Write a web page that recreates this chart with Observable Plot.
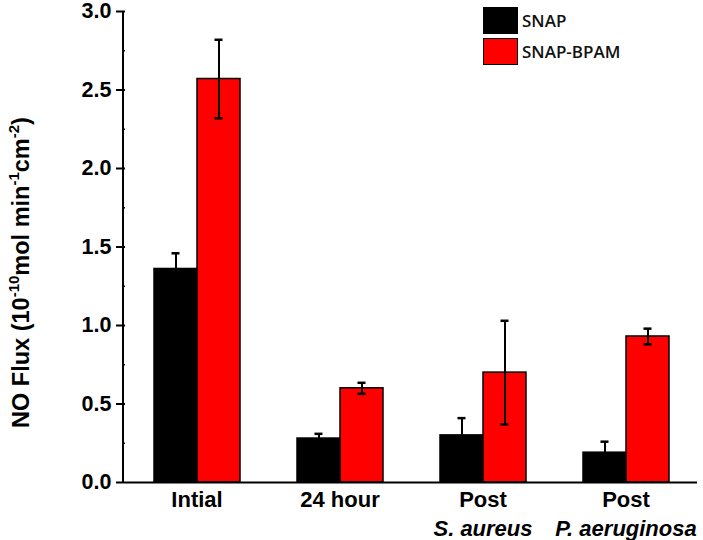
<!DOCTYPE html>
<html>
<head>
<meta charset="utf-8">
<script src="https://cdn.jsdelivr.net/npm/d3@7"></script>
<script src="https://cdn.jsdelivr.net/npm/@observablehq/plot@0.6"></script>
<style>
  body { margin: 0; background: #fff; }
  #wrap { position: relative; width: 703px; height: 540px; overflow: hidden; }
  .legend { position: absolute; left: 483px; top: 5px; font-family: "Open Sans", sans-serif; font-weight: 600; font-size: 17px; color: #111; }
  .legend .row { display: flex; align-items: center; height: 31px; }
  .legend .sw { width: 35px; height: 27px; box-sizing: border-box; border: 1px solid #000; margin-right: 4px; }
</style>
</head>
<body>
<div id="wrap"></div>
<script>
const groups = ["Intial", "24 hour", "Post S. aureus", "Post P. aeruginosa"];
const labelLine1 = ["Intial", "24 hour", "Post", "Post"];
const labelLine2 = ["", "", "S. aureus", "P. aeruginosa"];
const series = ["SNAP", "SNAP-BPAM"];
const colors = ["#000000", "#ff0000"];
const snapValues = [1.36, 0.28, 0.30, 0.19];
const snapErrors = [0.10, 0.03, 0.11, 0.07];
const bpamValues = [2.57, 0.60, 0.70, 0.93];
const bpamErrors = [0.25, 0.035, 0.33, 0.05];
const yTicks = [0, 0.5, 1.0, 1.5, 2.0, 2.5, 3.0];
const yMinorTicks = [0.25, 0.75, 1.25, 1.75, 2.25, 2.75];

const data = [];
groups.forEach((g, i) => {
  data.push({group: g, series: series[0], value: snapValues[i], err: snapErrors[i]});
  data.push({group: g, series: series[1], value: bpamValues[i], err: bpamErrors[i]});
});
const labels = groups.map((g, i) => ({group: g, l1: labelLine1[i], l2: labelLine2[i]}));

const mLeft = 123;
const plot = Plot.plot({
  width: 703,
  height: 540,
  marginLeft: mLeft,
  marginRight: 5,
  marginTop: 11,
  marginBottom: 58,
  style: {fontFamily: "'Liberation Sans', Arial, sans-serif", color: "#000", background: "#fff", overflow: "visible"},
  fx: {domain: groups, padding: 0, axis: null, label: null},
  x: {domain: series, paddingInner: 0, paddingOuter: 0.65, axis: null},
  y: {domain: [0, 3], label: null},
  color: {domain: series, range: colors},
  marks: [
    Plot.barY(data, {fx: "group", x: "series", y: "value", fill: "series", stroke: "#000", strokeWidth: 1.5}),
    Plot.ruleX(data, {fx: "group", x: "series", y1: d => d.value - d.err, y2: d => d.value + d.err, stroke: "#000", strokeWidth: 2}),
    Plot.tickY(data, {fx: "group", x: "series", y: d => d.value + d.err, stroke: "#000", strokeWidth: 2.5, inset: 17.5}),
    Plot.tickY(data, {fx: "group", x: "series", y: d => d.value - d.err, stroke: "#000", strokeWidth: 2.5, inset: 17.5}),
    Plot.ruleY([0], {stroke: "#000", strokeWidth: 2}),
    Plot.axisY({ticks: yTicks, tickFormat: d3.format(".1f"), tickSize: 9, tickPadding: 5, fontSize: 21.5, fontWeight: "bold", strokeWidth: 2, label: null}),
    Plot.axisY({ticks: yMinorTicks, tickFormat: null, text: null, tickSize: 3, strokeWidth: 1.5, label: null}),
    Plot.text(labels, {fx: "group", text: "l1", frameAnchor: "bottom", dy: 24, fontSize: 22, fontWeight: "bold", fill: "#000"}),
    Plot.text(labels, {fx: "group", text: "l2", frameAnchor: "bottom", dy: 53, fontSize: 22, fontWeight: "bold", fontStyle: "italic", fill: "#000"})
  ]
});

const wrap = document.getElementById("wrap");
wrap.appendChild(plot);

const svg = d3.select(plot);
const yScale = plot.scale("y");

// y axis line
svg.append("line")
  .attr("x1", mLeft).attr("x2", mLeft)
  .attr("y1", yScale.apply(0) + 1).attr("y2", yScale.apply(3))
  .attr("stroke", "#000").attr("stroke-width", 2);

// y-axis title with superscripts
const t = svg.append("text")
  .attr("transform", `translate(29,${(yScale.apply(0) + yScale.apply(3)) / 2 + 26}) rotate(-90)`)
  .attr("text-anchor", "middle")
  .attr("font-family", "'Liberation Sans', Arial, sans-serif")
  .attr("font-weight", "bold")
  .attr("font-size", 23.5)
  .attr("fill", "#000");
t.append("tspan").text("NO Flux (10");
t.append("tspan").attr("font-size", 15).attr("dy", -10).text("-10");
t.append("tspan").attr("dy", 10).text("mol min");
t.append("tspan").attr("font-size", 15).attr("dy", -10).text("-1");
t.append("tspan").attr("dy", 10).text("cm");
t.append("tspan").attr("font-size", 15).attr("dy", -10).text("-2");
t.append("tspan").attr("dy", 10).text(")");

// legend
const legend = document.createElement("div");
legend.className = "legend";
series.forEach((s, i) => {
  const row = document.createElement("div");
  row.className = "row";
  const sw = document.createElement("div");
  sw.className = "sw";
  sw.style.background = colors[i];
  const lab = document.createElement("span");
  lab.textContent = s;
  row.appendChild(sw);
  row.appendChild(lab);
  legend.appendChild(row);
});
wrap.appendChild(legend);
</script>
</body>
</html>
